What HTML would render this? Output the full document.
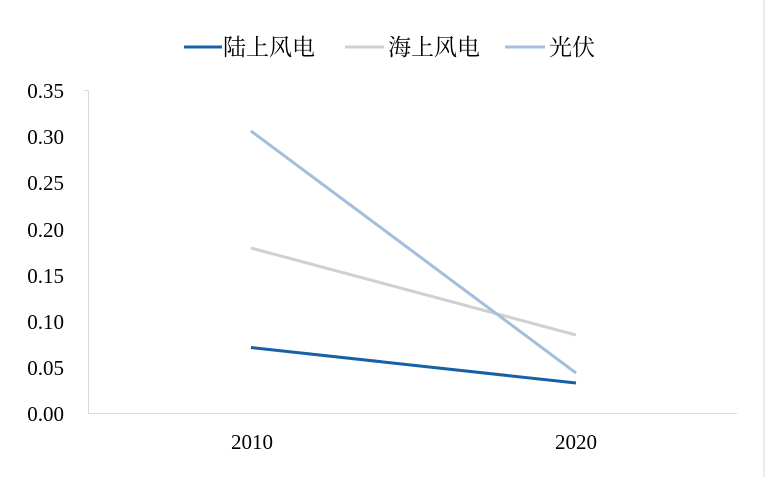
<!DOCTYPE html>
<html><head><meta charset="utf-8"><style>
html,body{margin:0;padding:0;background:#fff;}
</style></head><body>
<svg width="768" height="477" xmlns="http://www.w3.org/2000/svg" style="display:block">
<rect width="768" height="477" fill="#fff"/>
<line x1="764" y1="0" x2="764" y2="477" stroke="#d9d9d9" stroke-width="1"/>
<g font-family="Liberation Serif, Noto Serif CJK SC, serif" font-size="21" fill="#000">
<line x1="184" y1="47" x2="222" y2="47" stroke="#1660a5" stroke-width="3"/>
<text x="223" y="55" font-family="Noto Serif CJK SC, serif" font-size="23">陆上风电</text>
<line x1="345" y1="47" x2="384" y2="47" stroke="#d0d0d0" stroke-width="3"/>
<text x="388" y="55" font-family="Noto Serif CJK SC, serif" font-size="23">海上风电</text>
<line x1="505" y1="47" x2="545" y2="47" stroke="#a3bfdc" stroke-width="3"/>
<text x="549" y="55" font-family="Noto Serif CJK SC, serif" font-size="23">光伏</text>
<g text-anchor="end">
<text x="64" y="98">0.35</text>
<text x="64" y="144">0.30</text>
<text x="64" y="190">0.25</text>
<text x="64" y="237">0.20</text>
<text x="64" y="283">0.15</text>
<text x="64" y="329">0.10</text>
<text x="64" y="375">0.05</text>
<text x="64" y="421">0.00</text>
</g>
<text x="252" y="449" text-anchor="middle">2010</text>
<text x="576" y="449" text-anchor="middle">2020</text>
</g>
<g stroke="#d9d9d9" stroke-width="1">
<line x1="88.5" y1="90" x2="88.5" y2="413"/>
<line x1="88" y1="413.5" x2="737" y2="413.5"/>
<line x1="84" y1="90.5" x2="89" y2="90.5"/>
</g>
<g fill="none" stroke-width="3" stroke-linecap="butt">
<line x1="251" y1="248" x2="576" y2="335" stroke="#d0d0d0"/>
<line x1="251" y1="131" x2="576" y2="373" stroke="#a3bfdc"/>
<line x1="251" y1="347.5" x2="576" y2="383" stroke="#1660a5"/>
</g>
</svg>
</body></html>
